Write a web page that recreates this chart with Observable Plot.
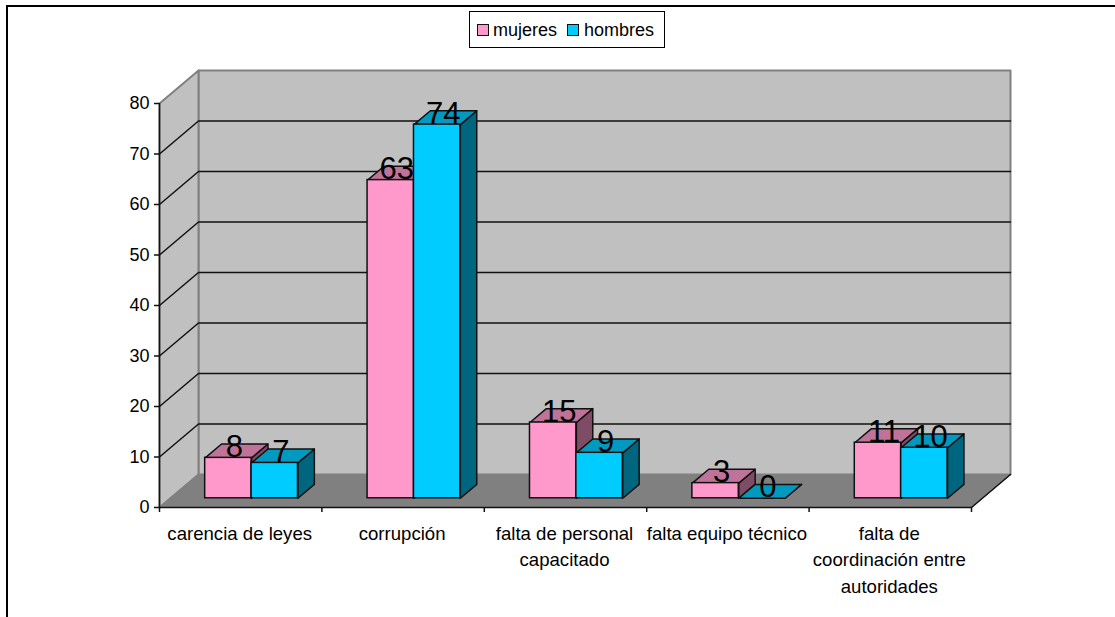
<!DOCTYPE html>
<html lang="es">
<head>
<meta charset="utf-8">
<script src="https://cdn.jsdelivr.net/npm/d3@7"></script>
<script src="https://cdn.jsdelivr.net/npm/@observablehq/plot@0.6"></script>
<style>
html,body{margin:0;padding:0;background:#fff;}
#page{position:relative;width:1115px;height:617px;overflow:hidden;font-family:"Liberation Sans",Arial,sans-serif;color:#000;}
#frame{position:absolute;left:6px;top:5px;right:-4px;bottom:-4px;border-top:2px solid #000;border-left:2px solid #000;pointer-events:none;}
#legend{position:absolute;left:469px;top:11px;width:194px;height:35px;border:1.5px solid #000;background:#fff;font-size:18px;line-height:37px;white-space:nowrap;}
#legend i{position:absolute;top:12px;width:10px;height:10px;border:1.5px solid #111;}
#legend span{position:absolute;top:0;}
#chart{position:absolute;left:0;top:50px;}
#chart svg{display:block;overflow:visible;}
</style>
</head>
<body>
<div id="page">
  <div id="frame"></div>
  <div id="chart"></div>
  <div id="legend"></div>
</div>
<script>
const categories = ["carencia de leyes","corrupción","falta de personal\ncapacitado","falta equipo técnico","falta de\ncoordinación entre\nautoridades"];
const mujeres = [8,63,15,3,11];
const hombres = [7,74,9,0,10];
const seriesNames = ["mujeres","hombres"];
const yTicks = [0,10,20,30,40,50,60,70,80];

const pink = {front:"#FF99CC",top:"#BF7399",side:"#7F4C66"};
const blue = {front:"#00CCFF",top:"#0099BF",side:"#00667F"};
const wallFill="#C0C0C0", floorFill="#808080", edge="#808080";

const nCat = categories.length, yMax = 80;
// oblique projection: "depth" 0 = front of the chart box, 1 = back wall
const kx = 0.24016, ky = 6.535;
const P = (x,y,d=0) => ({x:x+d*kx, y:y+d*ky});
const poly = (...pts) => [...pts, pts[0]];

const barW = 0.2857, barLead = 0.214, dFront = 0.28, dBack = 0.70;
const bars = s => (s===0?mujeres:hombres).map((v,i)=>({
  v, cat:i,
  x0:i+barLead+s*barW, x1:i+barLead+(s+1)*barW
}));
const topFace = b => poly(P(b.x0,b.v,dFront),P(b.x1,b.v,dFront),P(b.x1,b.v,dBack),P(b.x0,b.v,dBack)).map(p=>({...p,id:b.cat}));
const sideFace = b => poly(P(b.x1,0,dFront),P(b.x1,b.v,dFront),P(b.x1,b.v,dBack),P(b.x1,0,dBack)).map(p=>({...p,id:b.cat}));

const seg = (pts,opts) => Plot.line(pts,{x:"x",y:"y",...opts});
const face = (pts,fill,strokeC=fill,sw=1.5) => seg(pts,{fill,stroke:strokeC,strokeWidth:sw,z:"id"});

function barMarks(s,c){
  const b = bars(s);
  return [
    face(b.flatMap(sideFace),c.side,"#111",1.5),
    face(b.flatMap(topFace),c.top,"#111",1.5),
    Plot.rect(b,{
      x1:d=>P(d.x0,0,dFront).x, x2:d=>P(d.x1,0,dFront).x,
      y1:d=>P(0,0,dFront).y, y2:d=>P(0,d.v,dFront).y,
      fill:c.front, stroke:"#111", strokeWidth:1.5
    })
  ];
}
const labelMark = s => Plot.text(bars(s),{
  x:d=>P((d.x0+d.x1)/2,d.v,dFront).x, y:d=>P(0,d.v,dFront).y,
  text:d=>String(d.v), dx:6, dy:-1, fontSize:31, lineAnchor:"bottom", textAnchor:"middle", fill:"#000", stroke:"none"
});

const backWall = poly(P(0,0,1),P(nCat,0,1),P(nCat,yMax,1),P(0,yMax,1)).map(p=>({...p,id:0}));
const sideWall = poly(P(0,0,0),P(0,0,1),P(0,yMax,1),P(0,yMax,0)).map(p=>({...p,id:0}));
const floor = poly(P(0,0,0),P(nCat,0,0),P(nCat,0,1),P(0,0,1)).map(p=>({...p,id:0}));
const gridPts = yTicks.filter(v=>v>0&&v<yMax).flatMap(v=>[
  {...P(0,v,0),id:v},{...P(0,v,1),id:v},{...P(nCat,v,1),id:v}
]);

const plot = Plot.plot({
  width:1115, height:567,
  marginLeft:159, marginRight:144, marginTop:53, marginBottom:110,
  x:{domain:[0,nCat]},
  y:{domain:[0,yMax]},
  style:{fontFamily:'"Liberation Sans",Arial,sans-serif',background:"transparent",color:"#000",overflow:"visible"},
  marks:[
    face(backWall,wallFill,edge,2),
    face(sideWall,wallFill,edge,2),
    face(floor,floorFill,floorFill,1),
    seg(gridPts,{z:"id",stroke:"#111",strokeWidth:1.5}),
    seg([P(0,0,0),P(0,0,1)],{stroke:edge,strokeWidth:1.5}),
    seg([P(nCat,0,0),P(nCat,0,1)],{stroke:"#111",strokeWidth:1.5}),
    Plot.ruleX([0],{y1:0,y2:yMax,stroke:"#111",strokeWidth:1.5}),
    Plot.ruleY([0],{x1:0,x2:nCat,stroke:"#111",strokeWidth:1.5}),
    Plot.axisY({ticks:yTicks,tickSize:5,tickPadding:5,fontSize:18,stroke:"#111",strokeWidth:1.5,fill:"#000",label:null}),
    Plot.axisX({ticks:d3.range(nCat+1),tickSize:5,tickFormat:()=>"",stroke:"#111",strokeWidth:1.5,label:null}),
    Plot.text(categories,{
      x:(d,i)=>i+0.5, y:0, text:d=>d, dx:-1, dy:13, lineAnchor:"top", textAnchor:"middle",
      fontSize:18.6, lineHeight:1.44, fill:"#000"
    }),
    ...barMarks(0,pink),
    ...barMarks(1,blue),
    labelMark(0),
    labelMark(1)
  ]
});
document.getElementById("chart").appendChild(plot);

const legend = document.getElementById("legend");
const pos = [{sw:7,t:23},{sw:97,t:114}];
seriesNames.forEach((n,i)=>{
  const sw=document.createElement("i");
  sw.style.left=pos[i].sw+"px";
  sw.style.background=(i===0?pink:blue).front;
  const tx=document.createElement("span");
  tx.style.left=pos[i].t+"px";
  tx.textContent=n;
  legend.append(sw,tx);
});
</script>
</body>
</html>
